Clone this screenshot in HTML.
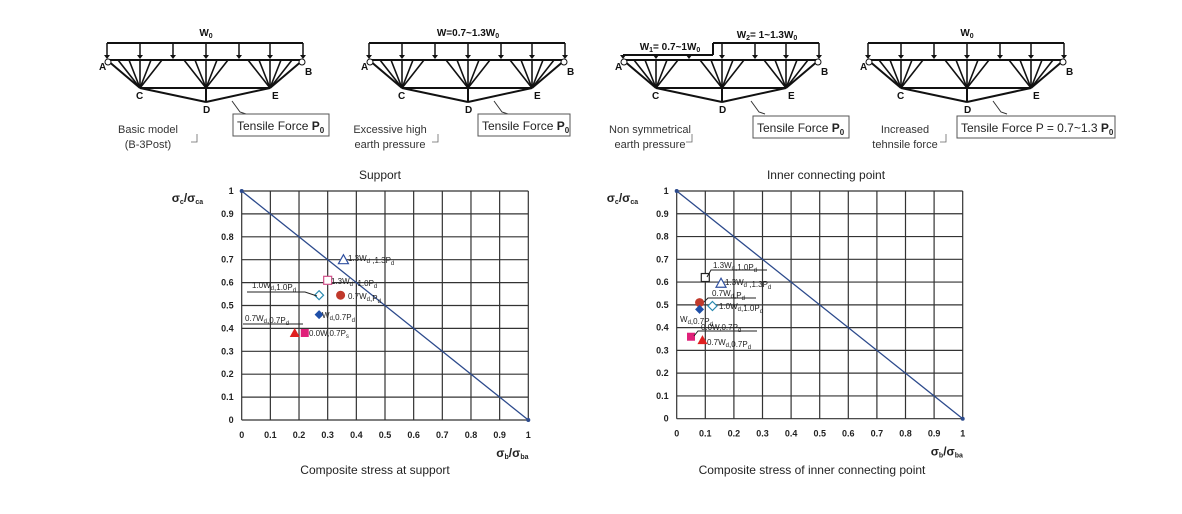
<!DOCTYPE html>
<html><head><meta charset="utf-8"><style>
body{margin:0;background:#fff;width:1182px;height:509px;overflow:hidden}
svg{font-family:"Liberation Sans",sans-serif}
</style></head><body>
<svg id="s" width="1182" height="509" viewBox="0 0 1182 509" xmlns="http://www.w3.org/2000/svg"></svg>
<script>
const s=document.getElementById('s');let h='';
function L(x1,y1,x2,y2,c='#111',w=2){h+=`<line x1="${x1}" y1="${y1}" x2="${x2}" y2="${y2}" stroke="${c}" stroke-width="${w}"/>`;}
function T(x,y,t,sz=11,a='start',c='#222',ex=''){h+=`<text x="${x}" y="${y}" font-size="${sz}" text-anchor="${a}" fill="${c}" ${ex}>${t}</text>`;}
function arrow(x,y1,y2){L(x,y1,x,y2-3,'#111',1.5);h+=`<polygon points="${x-3},${y2-4} ${x+3},${y2-4} ${x},${y2}" fill="#111"/>`;}
function truss(o,type){
 const A=107+o,B=303+o,top=60;
 const cs=[140+o,206+o,270+o];
 if(type!=3){L(A,43,B,43);[107,140,173,206,239,270,303].forEach(x=>arrow(x+o,43,59));}
 else{const m=713;L(A,55,m,55);L(m,43,B,43);L(m,43,m,55);
  [107,140,173].forEach(x=>arrow(x+o,55,59));arrow(206+o,43,59);[239,270,303].forEach(x=>arrow(x+o,43,59));}
 L(A,top,B,top);
 cs.forEach(c=>{[-22,-11,0,11,22].forEach(d=>L(c+d,top,c,88,'#111',1.6));});
 L(A,top,cs[0],88);L(B,top,cs[2],88);
 L(cs[0],88,cs[2],88);L(cs[0],88,cs[1],102);L(cs[2],88,cs[1],102);L(cs[1],88,cs[1],102);
 h+=`<circle cx="${A+1}" cy="${top+2}" r="3" fill="#fff" stroke="#111"/><circle cx="${B-1}" cy="${top+2}" r="3" fill="#fff" stroke="#111"/>`;
 T(A-8,70,'A',10,'start','#111','font-weight="bold"');T(B+2,75,'B',10,'start','#111','font-weight="bold"');
 T(cs[0]-4,99,'C',10,'start','#111','font-weight="bold"');T(cs[1]-3,113,'D',10,'start','#111','font-weight="bold"');T(cs[2]+2,99,'E',10,'start','#111','font-weight="bold"');
}
truss(0,1);truss(262,2);truss(516,3);truss(761,4);
T(206,36,'W<tspan font-size="7" dy="2">0</tspan>',10,'middle','#111','font-weight="bold"');
T(468,36,'W=0.7~1.3W<tspan font-size="7" dy="2">0</tspan>',10,'middle','#111','font-weight="bold"');
T(670,50,'W<tspan font-size="7" dy="2">1</tspan><tspan dy="-2">= 0.7~1W</tspan><tspan font-size="7" dy="2">0</tspan>',10,'middle','#111','font-weight="bold"');
T(767,38,'W<tspan font-size="7" dy="2">2</tspan><tspan dy="-2">= 1~1.3W</tspan><tspan font-size="7" dy="2">0</tspan>',10,'middle','#111','font-weight="bold"');
T(967,36,'W<tspan font-size="7" dy="2">0</tspan>',10,'middle','#111','font-weight="bold"');
function box(x,y,w,lx,t){h+=`<polyline points="${lx},${101} ${lx+8},${112} ${lx+14},${114}" fill="none" stroke="#333" stroke-width="1"/><rect x="${x}" y="${y}" width="${w}" height="22" fill="#fff" stroke="#555"/>`;T(x+4,y+16,t,12,'start','#222');}
box(233,114,96,232,'Tensile Force <tspan font-weight="bold">P</tspan><tspan font-size="8" dy="3" font-weight="bold">0</tspan>');
box(478,114,92,494,'Tensile Force <tspan font-weight="bold">P</tspan><tspan font-size="8" dy="3" font-weight="bold">0</tspan>');
box(753,116,96,751,'Tensile Force <tspan font-weight="bold">P</tspan><tspan font-size="8" dy="3" font-weight="bold">0</tspan>');
box(957,116,158,993,'Tensile Force P = 0.7~1.3 <tspan font-weight="bold">P</tspan><tspan font-size="8" dy="3" font-weight="bold">0</tspan>');
function cap(x,y,a,b,mx){T(x,y,a,11,'middle','#333');T(x,y+15,b,11,'middle','#333');h+=`<polyline points="${mx},${y+1} ${mx},${y+9} ${mx-6},${y+9}" fill="none" stroke="#666" stroke-width=".8"/>`;}
cap(148,133,'Basic model','(B-3Post)',197);cap(390,133,'Excessive high','earth pressure',438);cap(650,133,'Non symmetrical','earth pressure',692);cap(905,133,'Increased','tehnsile force',946);
T(380,179,'Support',12,'middle','#222');T(826,179,'Inner connecting point',12,'middle','#222');
T(375,474,'Composite stress at support',12,'middle','#222');T(812,474,'Composite stress of inner connecting point',12,'middle','#222');
function chart(x0,x1,y1,y0,pts,labels){
 const X=v=>x0+(x1-x0)*v,Y=v=>y0-(y0-y1)*v;
 for(let i=0;i<=10;i++){L(X(i/10),y1,X(i/10),y0,'#333',1.2);L(x0,Y(i/10),x1,Y(i/10),'#333',1.2);
  T(X(i/10),y0+18,i==0?'0':i==10?'1':(i/10).toFixed(1),9,'middle','#222','font-weight="bold"');
  T(x0-8,Y(i/10)+3,i==0?'0':i==10?'1':(i/10).toFixed(1),9,'end','#222','font-weight="bold"');}
 L(x0,y1,x1,y0,'#2c4a8c',1.3);
 h+=`<circle cx="${x0}" cy="${y1}" r="2" fill="#2c4a8c"/><circle cx="${x1}" cy="${y0}" r="2" fill="#2c4a8c"/>`;
 T(x0-70,y1+11,'σ<tspan font-size="7" dy="2">c</tspan><tspan dy="-2">/σ</tspan><tspan font-size="7" dy="2">ca</tspan>',12,'start','#222','font-weight="bold"');
 T(x1-32,y0+37,'σ<tspan font-size="7" dy="2">b</tspan><tspan dy="-2">/σ</tspan><tspan font-size="7" dy="2">ba</tspan>',12,'start','#222','font-weight="bold"');
 pts.forEach(p=>{const x=X(p[1]),y=Y(p[2]);const k=p[0];
  if(k=='to')h+=`<polygon points="${x-5},${y+4} ${x+5},${y+4} ${x},${y-5}" fill="#fff" stroke="#3050a0" stroke-width="1.2"/>`;
  if(k=='tf')h+=`<polygon points="${x-5},${y+4} ${x+5},${y+4} ${x},${y-5}" fill="#e02020"/>`;
  if(k=='so')h+=`<rect x="${x-4}" y="${y-4}" width="8" height="8" fill="#fff" stroke="${p[3]}" stroke-width="1.2"/>`;
  if(k=='sf')h+=`<rect x="${x-4}" y="${y-4}" width="8" height="8" fill="#e0207a"/>`;
  if(k=='c')h+=`<circle cx="${x}" cy="${y}" r="4.5" fill="#c0392b"/>`;
  if(k=='do')h+=`<polygon points="${x},${y-4.5} ${x+4.5},${y} ${x},${y+4.5} ${x-4.5},${y}" fill="#fff" stroke="#2a8ab0" stroke-width="1.2"/>`;
  if(k=='df')h+=`<polygon points="${x},${y-4.5} ${x+4.5},${y} ${x},${y+4.5} ${x-4.5},${y}" fill="#1f4fa8"/>`;});
 labels.forEach(l=>{T(l[0],l[1],l[2],8,'start','#222');if(l[3])h+=`<polyline points="${l[3]}" fill="none" stroke="#222" stroke-width="1"/>`;});
}
const sub=(a,b)=>`${a}<tspan font-size="6" dy="2">${b}</tspan><tspan dy="-2"></tspan>`;
chart(241.7,528.3,191,420,[['to',.355,.70],['so',.30,.61,'#d0508a'],['do',.27,.545],['c',.345,.545],['df',.27,.46],['tf',.185,.38],['sf',.22,.38]],
[[348,261,'1.3'+sub('W','d')+' ,1.3'+sub('P','d')],[331,284,'1.3'+sub('W','d')+' ,1.0'+sub('P','d')],[252,288,'1.0'+sub('W','d')+',1.0'+sub('P','d'),'247,292 305,292 317,296'],
[348,299,'0.7'+sub('W','d')+','+sub('P','d')],[322,318,sub('W','d')+',0.7'+sub('P','d')],[245,321,'0.7'+sub('W','d')+',0.7'+sub('P','d'),'243,324 303,324'],[309,336,'0.0W,0.7'+sub('P','s')]]);
chart(676.7,962.7,191,418.7,[['so',.10,.62,'#222'],['to',.155,.595],['c',.08,.51],['do',.125,.495],['df',.08,.48],['sf',.05,.36],['tf',.09,.345]],
[[713,268,'1.3'+sub('W','d')+',1.0'+sub('P','d'),'707,277 711,270 767,270'],[725,285,'1.3'+sub('W','d')+' ,1.3'+sub('P','d')],[712,296,'0.7'+sub('W','d')+','+sub('P','d'),'704,302 708,298 756,298'],
[719,309,'1.0'+sub('W','d')+',1.0'+sub('P','d')],[680,322,sub('W','d')+',0.7'+sub('P','d')],[701,330,'0.0W,0.7'+sub('P','d'),'694,336 698,331 757,331'],[707,345,'0.7'+sub('W','d')+',0.7'+sub('P','d')]]);
s.innerHTML=h;
</script>
</body></html>
